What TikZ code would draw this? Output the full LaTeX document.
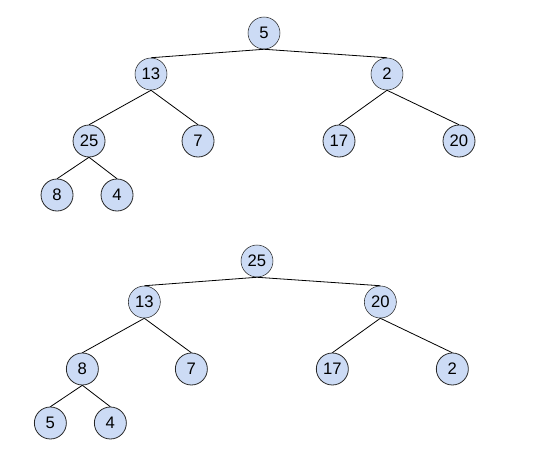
\documentclass[tikz,border=0pt]{standalone}
\usepackage{fontspec}
\setmainfont{Liberation Sans}
\usetikzlibrary{trees}
\definecolor{nodeblue}{HTML}{CCDBF5}

\begin{document}
\begin{tikzpicture}[x=0.75pt,y=-0.75pt,
    hnode/.style={circle,draw=black!85,fill=nodeblue,minimum size=24pt,inner sep=0pt,font=\fontsize{12.5}{13}\selectfont},
    every node/.style={hnode},
    edge from parent/.style={draw,black,line width=0.6pt},
    parent anchor=south,child anchor=north,
    level 1/.style={level distance=30.75pt,sibling distance=177pt},
    level 2/.style={level distance=50.25pt,sibling distance=81.75pt},
    level 3/.style={level distance=40.5pt,sibling distance=45pt}]
  \useasboundingbox (0,0) rectangle (533,472);
  % heap before
  \node (top5) at (264,33) {5}
    child[xshift=3.75pt] {node (top13) {13}
      child[xshift=-5.6pt] {node (top25) {25}
        child[xshift=-1.5pt] {node (top8) {8}}
        child[xshift=-1.5pt] {node (top4) {4}}}
      child[xshift=-5.6pt] {node (top7) {7}}}
    child[xshift=3.75pt] {node (top2) {2}
      child[sibling distance=90pt,xshift=9pt] {node (top17) {17}}
      child[sibling distance=90pt,xshift=9pt] {node (top20) {20}}};
  % heap after
  \node (bot25) at (257,261) {25}
    child[xshift=4pt] {node (bot13) {13}
      child[xshift=-5.6pt] {node (bot8) {8}
        child[xshift=-1.5pt] {node (bot5) {5}}
        child[xshift=-1.5pt] {node (bot4) {4}}}
      child[xshift=-5.6pt] {node (bot7) {7}}}
    child[xshift=4pt] {node (bot20) {20}
      child[sibling distance=90pt,xshift=9pt] {node (bot17) {17}}
      child[sibling distance=90pt,xshift=9pt] {node (bot2) {2}}};
\end{tikzpicture}
\end{document}
